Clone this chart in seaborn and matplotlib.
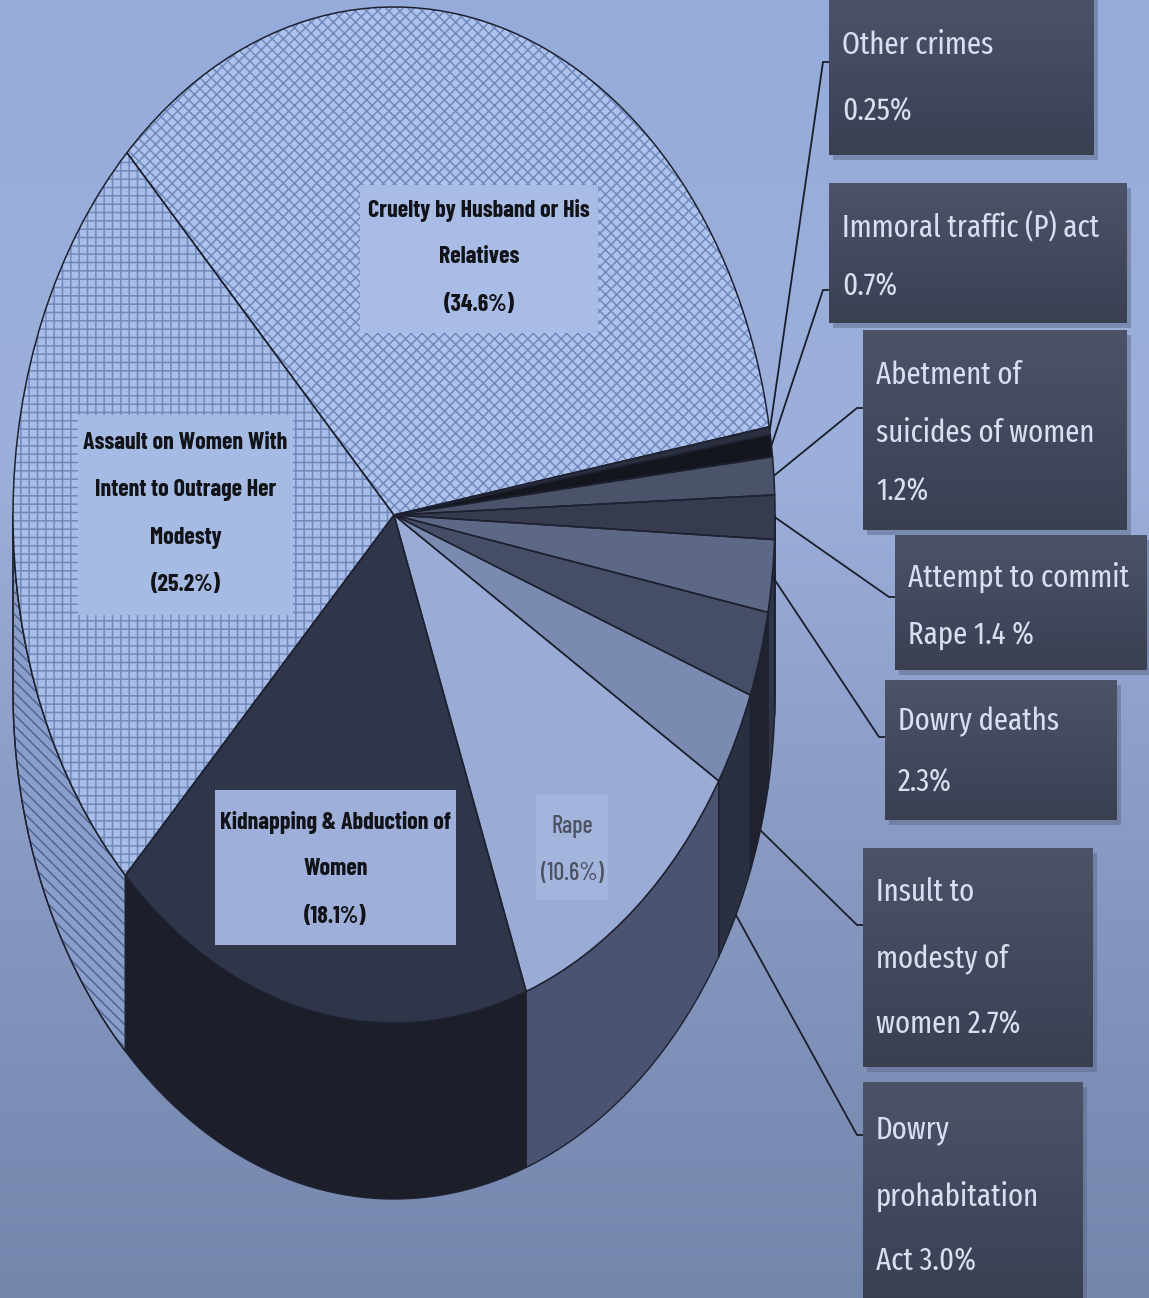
import numpy as np
import matplotlib
matplotlib.use("Agg")
import matplotlib.pyplot as plt
import seaborn as sns
from matplotlib.patches import Rectangle

# ---------------- data ----------------
categories = ["Other crimes", "Immoral traffic (P) act", "Abetment of suicides of women",
              "Attempt to commit Rape", "Dowry deaths", "Insult to modesty of women",
              "Dowry prohabitation Act", "Rape", "Kidnapping & Abduction of Women",
              "Assault on Women With Intent to Outrage Her Modesty",
              "Cruelty by Husband or His Relatives"]
shares = [0.25, 0.7, 1.2, 1.4, 2.3, 2.7, 3.0, 10.6, 18.1, 25.2, 34.6]
outer_labels = ["Other crimes\n0.25%", "Immoral traffic (P) act\n0.7%",
                "Abetment of\nsuicides of women\n1.2%", "Attempt to commit\nRape 1.4 %",
                "Dowry deaths\n2.3%", "Insult to\nmodesty of\nwomen 2.7%",
                "Dowry\nprohabitation\nAct 3.0%"]
inner_labels = ["Rape\n(10.6%)", "Kidnapping & Abduction of\nWomen\n(18.1%)",
                "Assault on Women With\nIntent to Outrage Her\nModesty\n(25.2%)",
                "Cruelty by Husband or His\nRelatives\n(34.6%)"]

# ---------------- style ----------------
top_colors = ['#2b3040', '#14161d', '#4b536a', '#363b4e', '#5d6886', '#464d66',
              '#7b8ab1', '#9aacd6', '#30364a', '#a8bde7', '#adc3ee']
side_colors = ['#1c1f29', '#101218', '#2c3140', '#252a37', '#2f3545', '#1f2330',
               '#2b3040', '#4a5371', '#1c1f2a', '#8a9ecb', '#8da4d2']
hatches = {9: '||--', 10: 'xxx'}
side_hatch = {9: '\\\\\\'}
edge = '#1d2130'

sns.set_theme(style="white")
plt.rcParams['hatch.linewidth'] = 1.1

W, H = 1149, 1298
fig = plt.figure(figsize=(W / 100, H / 100), dpi=100)

# background gradient
bg = fig.add_axes([0, 0, 1, 1])
bg.set_axis_off()
stops_y = np.array([0, 450, 900, 1298]) / H
stops_c = np.array([[0x95, 0xab, 0xd9], [0x9d, 0xb0, 0xdb], [0x86, 0x97, 0xc0], [0x75, 0x86, 0xad]]) / 255
yy = np.linspace(0, 1, 400)
grad = np.stack([np.interp(yy, stops_y, stops_c[:, k]) for k in range(3)], axis=1)
bg.imshow(grad[:, None, :], aspect='auto', extent=[0, 1, 1, 0])
bg.set_xlim(0, 1); bg.set_ylim(1, 0)

# pie axes: unit circle mapped to an ellipse (pixel centre, semi-axes)
cx, cy, a, b = 394, 515, 381, 508
ax = fig.add_axes([0, 0, 1, 1])
ax.patch.set_alpha(0)
depth = 176 / b
start = 10.0

vals = np.array(shares)
frac = vals / vals.sum()
hi = start - 360 * np.concatenate([[0], np.cumsum(frac)[:-1]])
lo = hi - 360 * frac

# 3-D side walls (visible part: angles between -180 and 0)
for i in range(len(vals)):
    t1, t2 = max(lo[i], -180.0), min(hi[i], 0.0)
    if t2 <= t1:
        continue
    th = np.radians(np.linspace(t1, t2, 80))
    xs = np.concatenate([np.cos(th), np.cos(th[::-1])])
    ys = np.concatenate([np.sin(th), np.sin(th[::-1]) - depth])
    ax.fill(xs, ys, facecolor=side_colors[i], edgecolor=edge, linewidth=1.0, zorder=1)
    if i in side_hatch:
        ax.fill(xs, ys, facecolor='none', edgecolor='#52648f', hatch=side_hatch[i],
                linewidth=0, zorder=1.5)
        ax.fill(xs, ys, facecolor='none', edgecolor=edge, linewidth=1.0, zorder=1.6)

wedges, _ = ax.pie(vals, colors=top_colors, startangle=start, counterclock=False,
                   wedgeprops=dict(linewidth=0))
for w in wedges:
    w.set_zorder(2)
hw, _ = ax.pie(vals, startangle=start, counterclock=False,
               wedgeprops=dict(linewidth=0, fill=False))
for i, w in enumerate(hw):
    w.set_zorder(3)
    if i in hatches:
        w.set_hatch(hatches[i])
        w.set_edgecolor('#7189bb')
    else:
        w.set_visible(False)
ow, _ = ax.pie(vals, startangle=start, counterclock=False,
               wedgeprops=dict(linewidth=1.1, fill=False, edgecolor=edge))
for w in ow:
    w.set_zorder(4)

ax.set_aspect('auto')
ax.set_xlim(-cx / a, (W - cx) / a)
ax.set_ylim(-(H - cy) / b, cy / b)
ax.set_axis_off()

# overlay in pixel coordinates
ov = fig.add_axes([0, 0, 1, 1])
ov.patch.set_alpha(0)
ov.set_xlim(0, W); ov.set_ylim(H, 0)
ov.set_axis_off()
renderer = fig.canvas.get_renderer()


def to_px(x, y):
    p = ax.transData.transform((x, y))
    return ov.transData.inverted().transform(p)


def fit_size(s, target_px, **kw):
    t = ov.text(0, 0, s, fontsize=20, **kw)
    w = t.get_window_extent(renderer).width
    t.remove()
    return 20 * target_px / w


inner_font = ['Barlow Condensed', 'Roboto Condensed', 'DejaVu Sans']
box_font = ['Fira Sans Extra Condensed', 'Sofia Sans Condensed', 'Fira Sans Condensed', 'DejaVu Sans']

inner_size = fit_size("Cruelty by Husband or His", 222, family=inner_font, fontweight='bold')
box_size = fit_size("Immoral traffic (P) act", 257, family=box_font)

# inner label boxes
inner_boxes = [(536, 795, 608, 900), (215, 790, 456, 945), (78, 415, 293, 615), (360, 185, 598, 333)]
inner_first = [826, 822, 443, 210]
inner_fill = ['#a3b4dd', '#9eb0da', '#a6bbe4', '#a9bce6']
for k, (lab, (x0, y0, x1, y1)) in enumerate(zip(inner_labels, inner_boxes)):
    ov.add_patch(Rectangle((x0, y0), x1 - x0, y1 - y0, facecolor=inner_fill[k], edgecolor='none', zorder=5))
    rape = k == 0
    for j, line in enumerate(lab.split("\n")):
        ov.text((x0 + x1) / 2, inner_first[k] + 47.3 * j, line, ha='center', va='center',
                fontsize=inner_size, fontweight='medium' if rape else 'bold',
                color='#4c5262' if rape else '#111318', family=inner_font, zorder=6)

# outer label boxes
outer_boxes = [(829, -5, 1094, 155), (829, 183, 1127, 323), (863, 330, 1127, 530),
               (895, 535, 1147, 670), (885, 680, 1117, 820), (863, 848, 1093, 1067),
               (863, 1082, 1083, 1303)]
first_y = [45, 228, 375, 577, 722, 892, 1130]
spacing = [67, 59, 58.5, 59, 61, 66.5, 66]
line_y = [62, 290, 408, 597, 737, 925, 1135]
gbox = np.linspace(0, 1, 50)
top_c = np.array([0x4c, 0x53, 0x69]) / 255
bot_c = np.array([0x3a, 0x40, 0x52]) / 255
for k, (lab, (x0, y0, x1, y1)) in enumerate(zip(outer_labels, outer_boxes)):
    ov.add_patch(Rectangle((x0 + 4, y0 + 5), x1 - x0, y1 - y0, facecolor='#55617f', alpha=0.45,
                           edgecolor='none', zorder=5))
    g = top_c[None, :] * (1 - gbox[:, None]) + bot_c[None, :] * gbox[:, None]
    ov.imshow(g[:, None, :], extent=[x0, x1, y1, y0], aspect='auto', zorder=6)
    for j, line in enumerate(lab.split("\n")):
        ov.text(x0 + 13, first_y[k] + spacing[k] * j, line, ha='left', va='center',
                fontsize=box_size, color='#d7dff0', family=box_font, zorder=7)
    # leader line from the slice's mid-angle
    mid = np.radians((hi[k] + lo[k]) / 2)
    ya = np.sin(mid) - (depth if np.degrees(mid) < -12 else 0)
    axp, ayp = to_px(np.cos(mid), ya)
    ov.plot([axp, x0 - 6, x0], [ayp, line_y[k], line_y[k]], color='#1a1e2b', lw=1.3, zorder=4.5)
ov.set_xlim(0, W); ov.set_ylim(H, 0)

fig.savefig("out.png", dpi=100)
